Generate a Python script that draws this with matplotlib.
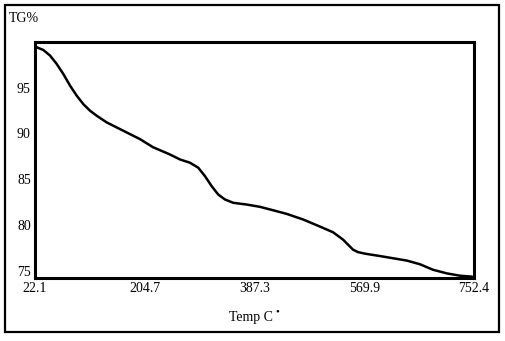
import numpy as np
import matplotlib
matplotlib.use('Agg')
import matplotlib.pyplot as plt
from matplotlib.patches import Rectangle

# --- data ---
temp = [23.0, 24.9, 35.9, 47.1, 58.2, 69.2, 80.3, 91.5, 102.5, 113.6,
        124.7, 141.4, 158.0, 180.1, 196.8, 218.4, 246.7, 263.3, 280.0, 293.8,
        304.9, 316.1, 327.0, 338.2, 352.0, 374.3, 396.4, 418.5, 440.8, 468.0,
        496.2, 517.9, 534.5, 542.8, 551.1, 559.4, 571.1, 596.0, 641.0, 662.6,
        684.2, 707.5, 729.1, 749.1]
tg = [99.6, 99.42, 99.13, 98.52, 97.60, 96.50, 95.24, 94.13, 93.21, 92.49,
      91.94, 91.21, 90.66, 89.93, 89.38, 88.5, 87.7, 87.16, 86.80, 86.25,
      85.33, 84.23, 83.32, 82.78, 82.42, 82.23, 81.98, 81.60, 81.21, 80.6,
      79.82, 79.2, 78.4, 77.85, 77.3, 77.03, 76.86, 76.6, 76.1, 75.7,
      75.1, 74.7, 74.45, 74.35]

x_ticks = [22.1, 204.7, 387.3, 569.9, 752.4]
y_ticks = [75, 80, 85, 90, 95]

plt.rcParams['font.family'] = ['Liberation Serif', 'DejaVu Serif']

W, H = 506, 341
fig = plt.figure(figsize=(W / 100, H / 100), dpi=100)

# outer frame
fig.patches.append(Rectangle((5 / W, 1 - 332 / H), 494 / W, 327 / H,
                             transform=fig.transFigure, fill=False,
                             edgecolor='black', linewidth=1.6))

ax = fig.add_axes([35 / W, 1 - 278 / H, 439 / W, 236 / H])
ax.plot(temp, tg, color='black', linewidth=1.8,
        solid_joinstyle='round', solid_capstyle='round')

ax.set_xlim(22.1, 752.4)
ax.set_ylim(74.2, 100.0)
ax.set_xticks(x_ticks)
ax.set_xticklabels(['%.1f' % t for t in x_ticks])
ax.set_yticks(y_ticks)
ax.tick_params(length=0, labelsize=10, pad=3)
for s in ax.spines.values():
    s.set_linewidth(2.2)

fig.text(9 / W, 1 - 19 / H, 'TG%', ha='left', va='center', fontsize=10)
fig.text(273 / W, 1 - 317 / H, 'Temp C', ha='right', va='center', fontsize=10)
fig.text(277 / W, 1 - 312 / H, '\u2022', ha='center', va='center', fontsize=8)

fig.savefig('out.png', dpi=100)
